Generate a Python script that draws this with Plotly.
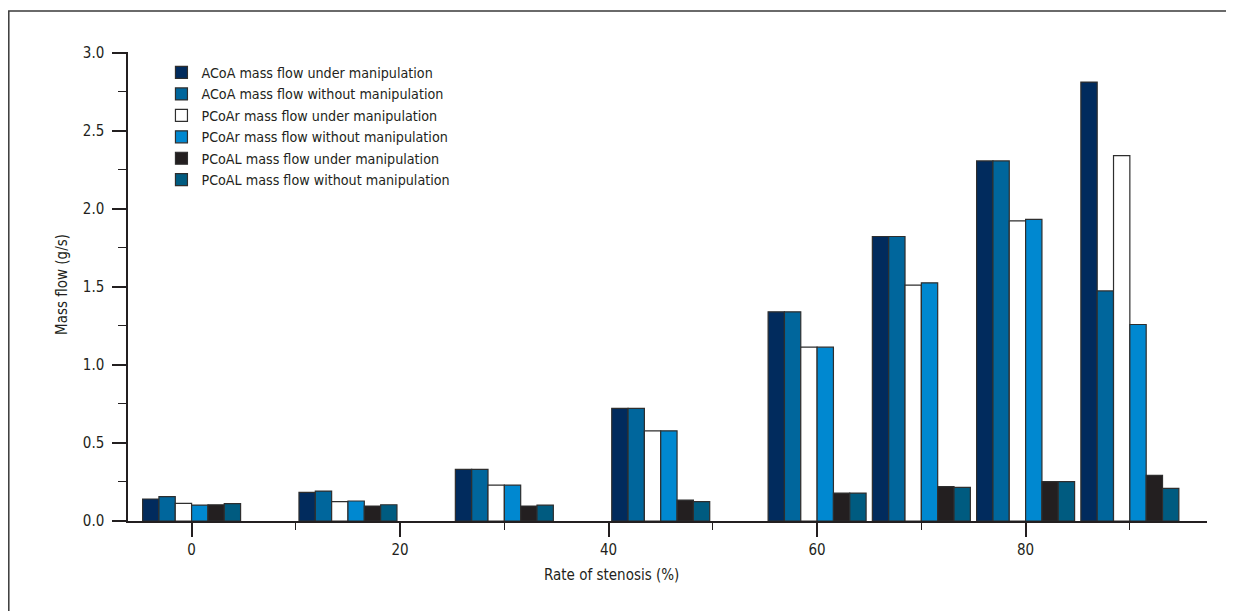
import plotly.graph_objects as go

stenosis = [0, 15, 30, 45, 60, 70, 80, 90]
acoa_under = [0.141, 0.184, 0.331, 0.721, 1.340, 1.823, 2.307, 2.812]
acoa_without = [0.156, 0.192, 0.331, 0.721, 1.340, 1.823, 2.307, 1.474]
pcoar_under = [0.113, 0.124, 0.230, 0.578, 1.114, 1.511, 1.923, 2.341]
pcoar_without = [0.102, 0.128, 0.230, 0.578, 1.114, 1.526, 1.933, 1.259]
pcoal_under = [0.104, 0.096, 0.096, 0.134, 0.179, 0.220, 0.252, 0.292]
pcoal_without = [0.111, 0.104, 0.102, 0.124, 0.179, 0.216, 0.252, 0.209]

series = [
    ("ACoA mass flow under manipulation", acoa_under, "#012b5d"),
    ("ACoA mass flow without manipulation", acoa_without, "#00669c"),
    ("PCoAr mass flow under manipulation", pcoar_under, "#ffffff"),
    ("PCoAr mass flow without manipulation", pcoar_without, "#0088d0"),
    ("PCoAL mass flow under manipulation", pcoal_under, "#231f20"),
    ("PCoAL mass flow without manipulation", pcoal_without, "#005b80"),
]

FONT = "DejaVu Sans Condensed, Liberation Sans Narrow, sans-serif"
TXT = "#231f20"

fig = go.Figure()
for name, vals, col in series:
    fig.add_trace(go.Bar(
        x=stenosis, y=vals, name=name,
        marker=dict(color=col, line=dict(color="#2e2e2e", width=1.2)),
    ))

fig.update_layout(
    width=1226, height=603,
    barmode="group", bargap=0.06, bargroupgap=0,
    paper_bgcolor="white", plot_bgcolor="white",
    margin=dict(l=120, r=27, t=44, b=90),
    font=dict(family=FONT, size=15, color=TXT),
    showlegend=True,
    legend=dict(x=0.031, y=0.99, xanchor="left", yanchor="top",
                bgcolor="rgba(0,0,0,0)", font=dict(family=FONT, size=14.2, color=TXT),
                tracegroupgap=0, itemclick=False),
    xaxis=dict(range=[-6.1, 97.4], tick0=0, dtick=20, showgrid=False, zeroline=False,
               showline=True, linecolor=TXT, linewidth=1.5,
               ticks="outside", ticklen=14, tickwidth=1.5, tickcolor=TXT,
               minor=dict(dtick=10, ticks="outside", ticklen=7, tickwidth=1.2, tickcolor=TXT),
               tickfont=dict(family=FONT, size=15, color=TXT)),
    yaxis=dict(range=[0, 3.005], tick0=0, dtick=0.5, tickformat=".1f", showgrid=False,
               zeroline=False, showline=True, linecolor=TXT, linewidth=1.5,
               ticks="outside", ticklen=14, tickwidth=1.5, tickcolor=TXT,
               ticklabelstandoff=5,
               minor=dict(dtick=0.25, ticks="outside", ticklen=8, tickwidth=1.2, tickcolor=TXT),
               tickfont=dict(family=FONT, size=15, color=TXT)),
    annotations=[
        dict(text="Rate of stenosis (%)", xref="paper", yref="paper",
             x=(611 - 128) / 1079, y=(521 - 575) / 469, xanchor="center", yanchor="middle",
             showarrow=False, font=dict(family=FONT, size=15, color=TXT)),
        dict(text="Mass flow (g/s)", xref="paper", yref="paper", textangle=-90,
             x=(62 - 128) / 1079, y=(521 - 285) / 469, xanchor="center", yanchor="middle",
             showarrow=False, font=dict(family=FONT, size=15, color=TXT)),
    ],
    shapes=[
        dict(type="rect", xref="paper", yref="paper",
             x0=(0.8 - 120) / 1079, y0=-0.4, x1=1.1, y1=(521 - 11) / 469,
             line=dict(color="#3a3a3a", width=1.5), fillcolor="rgba(0,0,0,0)", layer="below"),
    ],
)

fig.write_html("out.html")
